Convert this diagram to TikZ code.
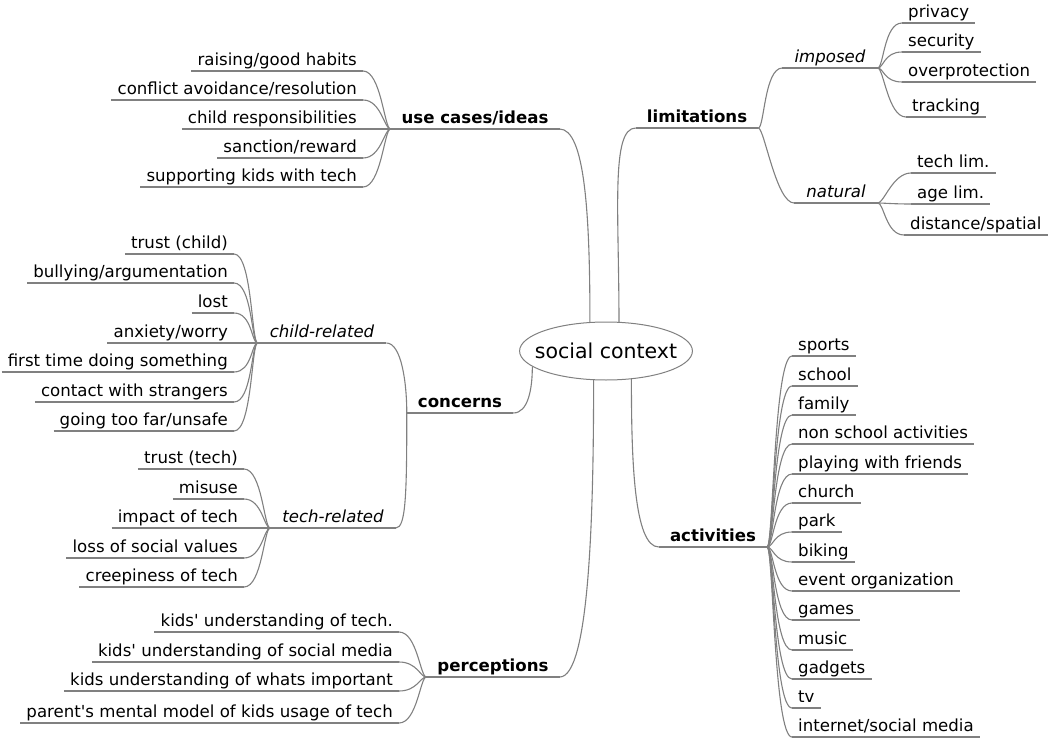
\documentclass[tikz,border=0pt]{standalone}
\usepackage{fontspec}
\setmainfont{DejaVu Sans}
\usetikzlibrary{shapes.geometric}
\definecolor{linegray}{RGB}{128,128,128}
\begin{document}
\begin{tikzpicture}[x=1pt,y=1pt]
  \tikzstyle{link}=[draw=linegray, line width=1.1pt]
  \tikzstyle{leaf}=[font=\fontsize{16.6}{20}\selectfont, inner xsep=6pt, inner ysep=1.5pt, text height=12.5pt, text depth=4pt,
    append after command={(\tikzlastnode.south west) edge[link] (\tikzlastnode.south east)}]
  \tikzstyle{topic}=[leaf, font=\fontsize{16.6}{20}\selectfont\bfseries, inner xsep=11pt]
  \tikzstyle{subtopic}=[leaf, font=\fontsize{16.6}{20}\selectfont\itshape, inner xsep=12pt]
  \tikzstyle{root}=[ellipse, draw=linegray, line width=1pt, fill=white, minimum height=58pt, inner xsep=-10pt, inner ysep=0pt, font=\fontsize{20.5}{24}\selectfont]
  \tikzstyle{twigl}=[link, out=180, in=0, out distance=6pt, in distance=18pt]
  \tikzstyle{twigr}=[link, out=0, in=180, out distance=6pt, in distance=18pt]
  \useasboundingbox (0,0) rectangle (1059,-738);
  \node[root] (root) at (606,-351) {social context};
  % main branches
  \node[topic, anchor=south] (usecases) at (475,-129) {use cases/ideas};
  \node[topic, anchor=south] (limits) at (697,-128) {limitations};
  \node[topic, anchor=south] (concerns) at (460,-413) {concerns};
  \node[topic, anchor=south] (percept) at (493,-677) {perceptions};
  \node[topic, anchor=south] (activ) at (713,-547) {activities};
  \draw[link] (root.119) to[out=90, in=0, out distance=110pt, in distance=25pt] (usecases.south east);
  \draw[link] (root.66) to[out=90, in=180, out distance=110pt, in distance=25pt] (limits.south west);
  \draw[link] (root.192) to[out=270, in=0, out distance=22pt, in distance=15pt] (concerns.south east);
  \draw[link] (root.247) to[out=270, in=0, out distance=130pt, in distance=30pt] (percept.south east);
  \draw[link] (root.312) to[out=270, in=180, out distance=80pt, in distance=25pt] (activ.south west);
  % sub branches
  \node[subtopic, anchor=south] (childrel) at (322,-343) {child-related};
  \node[subtopic, anchor=south] (techrel) at (333,-528) {tech-related};
  \node[subtopic, anchor=south] (imposed) at (830,-68) {imposed};
  \node[subtopic, anchor=south] (natural) at (836,-203) {natural};
  \draw[link] (concerns.south west) to[out=90, in=0, out distance=30pt, in distance=15pt] (childrel.south east);
  \draw[link] (concerns.south west) to[out=270, in=0, out distance=80pt, in distance=10pt] (techrel.south east);
  \draw[twigr] (limits.south east) to (imposed.south west);
  \draw[twigr] (limits.south east) to (natural.south west);
  % use cases/ideas
  \node[leaf, anchor=south east] (habits) at (363,-71) {raising/good habits};
  \node[leaf, anchor=south east] (conflict) at (363,-100) {conflict avoidance/resolution};
  \node[leaf, anchor=south east] (respons) at (363,-129) {child responsibilities};
  \node[leaf, anchor=south east] (sanction) at (363,-158) {sanction/reward};
  \node[leaf, anchor=south east] (supporting) at (363,-187) {supporting kids with tech};
  \draw[twigl] (usecases.south west) to (habits.south east);
  \draw[twigl] (usecases.south west) to (conflict.south east);
  \draw[twigl] (usecases.south west) to (respons.south east);
  \draw[twigl] (usecases.south west) to (sanction.south east);
  \draw[twigl] (usecases.south west) to (supporting.south east);
  % child-related
  \node[leaf, anchor=south east] (trustchild) at (234,-254) {trust (child)};
  \node[leaf, anchor=south east] (bullying) at (234,-283) {bullying/argumentation};
  \node[leaf, anchor=south east] (lost) at (234,-313) {lost};
  \node[leaf, anchor=south east] (anxiety) at (234,-343) {anxiety/worry};
  \node[leaf, anchor=south east] (firsttime) at (234,-372) {first time doing something};
  \node[leaf, anchor=south east] (strangers) at (234,-402) {contact with strangers};
  \node[leaf, anchor=south east] (toofar) at (234,-431) {going too far/unsafe};
  \draw[twigl] (childrel.south west) to (trustchild.south east);
  \draw[twigl] (childrel.south west) to (bullying.south east);
  \draw[twigl] (childrel.south west) to (lost.south east);
  \draw[twigl] (childrel.south west) to (anxiety.south east);
  \draw[twigl] (childrel.south west) to (firsttime.south east);
  \draw[twigl] (childrel.south west) to (strangers.south east);
  \draw[twigl] (childrel.south west) to (toofar.south east);
  % tech-related
  \node[leaf, anchor=south east] (trusttech) at (244,-469) {trust (tech)};
  \node[leaf, anchor=south east] (misuse) at (244,-499) {misuse};
  \node[leaf, anchor=south east] (impact) at (244,-528) {impact of tech};
  \node[leaf, anchor=south east] (socialval) at (244,-558) {loss of social values};
  \node[leaf, anchor=south east] (creepy) at (244,-587) {creepiness of tech};
  \draw[twigl] (techrel.south west) to (trusttech.south east);
  \draw[twigl] (techrel.south west) to (misuse.south east);
  \draw[twigl] (techrel.south west) to (impact.south east);
  \draw[twigl] (techrel.south west) to (socialval.south east);
  \draw[twigl] (techrel.south west) to (creepy.south east);
  % perceptions
  \node[leaf, anchor=south east] (undtech) at (399,-632) {kids\textquotesingle{} understanding of tech.};
  \node[leaf, anchor=south east] (undsocial) at (399,-662) {kids\textquotesingle{} understanding of social media};
  \node[leaf, anchor=south east] (undimportant) at (399,-691) {kids understanding of whats important};
  \node[leaf, anchor=south east] (mentalmodel) at (399,-723) {parent\textquotesingle{}s mental model of kids usage of tech};
  \draw[twigl] (percept.south west) to (undtech.south east);
  \draw[twigl] (percept.south west) to (undsocial.south east);
  \draw[twigl] (percept.south west) to (undimportant.south east);
  \draw[twigl] (percept.south west) to (mentalmodel.south east);
  % imposed
  \node[leaf, anchor=south west] (privacy) at (902,-23) {privacy};
  \node[leaf, anchor=south west] (security) at (902,-52) {security};
  \node[leaf, anchor=south west] (overprot) at (902,-82) {overprotection};
  \node[leaf, anchor=south west] (tracking) at (906,-117) {tracking};
  \draw[twigr] (imposed.south east) to (privacy.south west);
  \draw[twigr] (imposed.south east) to (security.south west);
  \draw[twigr] (imposed.south east) to (overprot.south west);
  \draw[twigr] (imposed.south east) to (tracking.south west);
  % natural
  \node[leaf, anchor=south west] (techlim) at (911,-173) {tech lim.};
  \node[leaf, anchor=south west] (agelim) at (911,-204) {age lim.};
  \node[leaf, anchor=south west] (distance) at (904,-235) {distance/spatial};
  \draw[twigr] (natural.south east) to (techlim.south west);
  \draw[twigr] (natural.south east) to (agelim.south west);
  \draw[twigr] (natural.south east) to (distance.south west);
  % activities
  \node[leaf, anchor=south west] (sports) at (792,-356) {sports};
  \node[leaf, anchor=south west] (school) at (792,-386) {school};
  \node[leaf, anchor=south west] (family) at (792,-415) {family};
  \node[leaf, anchor=south west] (nonschool) at (792,-444) {non school activities};
  \node[leaf, anchor=south west] (friends) at (792,-474) {playing with friends};
  \node[leaf, anchor=south west] (church) at (792,-503) {church};
  \node[leaf, anchor=south west] (park) at (792,-532) {park};
  \node[leaf, anchor=south west] (biking) at (792,-562) {biking};
  \node[leaf, anchor=south west] (event) at (792,-591) {event organization};
  \node[leaf, anchor=south west] (games) at (792,-620) {games};
  \node[leaf, anchor=south west] (music) at (792,-650) {music};
  \node[leaf, anchor=south west] (gadgets) at (792,-679) {gadgets};
  \node[leaf, anchor=south west] (tv) at (792,-708) {tv};
  \node[leaf, anchor=south west] (internet) at (792,-737) {internet/social media};
  \draw[twigr] (activ.south east) to (sports.south west);
  \draw[twigr] (activ.south east) to (school.south west);
  \draw[twigr] (activ.south east) to (family.south west);
  \draw[twigr] (activ.south east) to (nonschool.south west);
  \draw[twigr] (activ.south east) to (friends.south west);
  \draw[twigr] (activ.south east) to (church.south west);
  \draw[twigr] (activ.south east) to (park.south west);
  \draw[twigr] (activ.south east) to (biking.south west);
  \draw[twigr] (activ.south east) to (event.south west);
  \draw[twigr] (activ.south east) to (games.south west);
  \draw[twigr] (activ.south east) to (music.south west);
  \draw[twigr] (activ.south east) to (gadgets.south west);
  \draw[twigr] (activ.south east) to (tv.south west);
  \draw[twigr] (activ.south east) to (internet.south west);
\end{tikzpicture}
\end{document}
